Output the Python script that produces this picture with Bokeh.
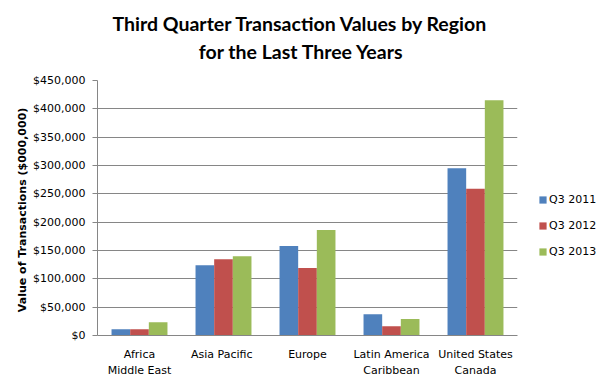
from bokeh.plotting import figure
from bokeh.models import (ColumnDataSource, Range1d, NumeralTickFormatter, Label,
                          Legend, LegendItem, FixedTicker)
from bokeh.layouts import column, row
from bokeh.transform import dodge
from bokeh.embed import file_html
from bokeh.resources import INLINE

regions = ["Africa\nMiddle East", "Asia  Pacific", "Europe", "Latin America\nCaribbean", "United States\nCanada"]
q3_2011 = [11000, 124000, 158000, 37500, 295000]
q3_2012 = [11000, 134500, 119000, 16500, 259000]
q3_2013 = [23500, 140000, 186000, 29000, 415000]
series_names = ["Q3 2011", "Q3 2012", "Q3 2013"]
colors = ["#4F81BD", "#C0504D", "#9BBB59"]
y_ticks = [0, 50000, 100000, 150000, 200000, 250000, 300000, 350000, 400000, 450000]
title_line1 = "Third Quarter Transaction Values by Region"
title_line2 = "for the Last Three Years"
y_label = "Value of Transactions  ($000,000)"

src = ColumnDataSource(dict(region=regions, a=q3_2011, b=q3_2012, c=q3_2013))

def blank(fig):
    fig.outline_line_color = None
    fig.background_fill_color = "white"
    fig.border_fill_color = "white"
    fig.xaxis.visible = False
    fig.yaxis.visible = False
    fig.xgrid.visible = False
    fig.ygrid.visible = False

# ---------- title strip ----------
tfig = figure(width=602, height=72, x_range=Range1d(0, 602), y_range=Range1d(0, 72),
              output_backend="svg", toolbar_location=None, min_border=0)
blank(tfig)
tstyle = dict(x_units="screen", y_units="screen", text_align="center", text_baseline="alphabetic",
              text_font="Lato", text_font_size="19.5px", text_font_style="bold", text_color="#000000")
tfig.add_layout(Label(x=300, y=49, text=title_line1, **tstyle))
tfig.add_layout(Label(x=301, y=21, text=title_line2, **tstyle))

# ---------- main chart ----------
p = figure(x_range=regions, y_range=Range1d(0, 450000), width=530, height=308,
           output_backend="svg", toolbar_location=None,
           min_border_left=97, min_border_right=13, min_border_top=8, min_border_bottom=45)
p.outline_line_color = None
p.background_fill_color = "white"
p.border_fill_color = "white"

bw = 0.222
cols = ["a", "b", "c"]
offsets = [-bw, 0, bw]
for col, off, c in zip(cols, offsets, colors):
    p.vbar(x=dodge("region", off, range=p.x_range), top=col, width=bw, source=src,
           fill_color=c, line_color=None)

p.xgrid.grid_line_color = None
p.ygrid.grid_line_color = "#868686"
p.ygrid.grid_line_width = 1
p.yaxis.ticker = FixedTicker(ticks=y_ticks)

p.yaxis.formatter = NumeralTickFormatter(format="$0,0")
p.yaxis.axis_line_color = "#868686"
p.yaxis.major_tick_line_color = "#868686"
p.yaxis.major_tick_out = 5
p.yaxis.major_tick_in = 0
p.yaxis.minor_tick_line_color = None
p.yaxis.major_label_text_font = "DejaVu Sans"
p.yaxis.major_label_text_font_size = "11px"
p.yaxis.major_label_text_color = "#000000"
p.yaxis.major_label_standoff = 7
p.yaxis.axis_label = y_label
p.yaxis.axis_label_text_font = "DejaVu Sans"
p.yaxis.axis_label_text_font_size = "11px"
p.yaxis.axis_label_text_font_style = "bold"
p.yaxis.axis_label_text_color = "#000000"
p.yaxis.axis_label_standoff = 1

p.xaxis.axis_line_color = "#868686"
p.xaxis.major_tick_line_color = None
p.xaxis.minor_tick_line_color = None
p.xaxis.major_label_text_font = "DejaVu Sans"
p.xaxis.major_label_text_font_size = "11px"
p.xaxis.major_label_text_color = "#000000"
p.xaxis.major_label_standoff = 6
p.xaxis.major_label_text_line_height = 1.3
p.x_range.range_padding = 0

# ---------- legend strip ----------
lfig = figure(width=72, height=308, x_range=p.x_range, y_range=Range1d(0, 1),
              output_backend="svg", toolbar_location=None, min_border=0)
blank(lfig)
lrs = []
for col, off, c in zip(cols, offsets, colors):
    r = lfig.vbar(x=dodge("region", off, range=lfig.x_range), top=col, width=bw, source=src,
                  fill_color=c, line_color=None, visible=False)
    lrs.append(r)
legend = Legend(items=[LegendItem(label=n, renderers=[r]) for n, r in zip(series_names, lrs)],
                location=(8, 77), orientation="vertical",
                label_text_font="DejaVu Sans", label_text_font_size="11px",
                label_text_color="#000000",
                glyph_width=9, glyph_height=9, label_height=9, spacing=13, padding=0, margin=0,
                label_standoff=2, border_line_color=None, background_fill_alpha=0)
lfig.add_layout(legend)

layout = column(tfig, row(p, lfig))
open("out.html", "w").write(file_html(layout, INLINE))
